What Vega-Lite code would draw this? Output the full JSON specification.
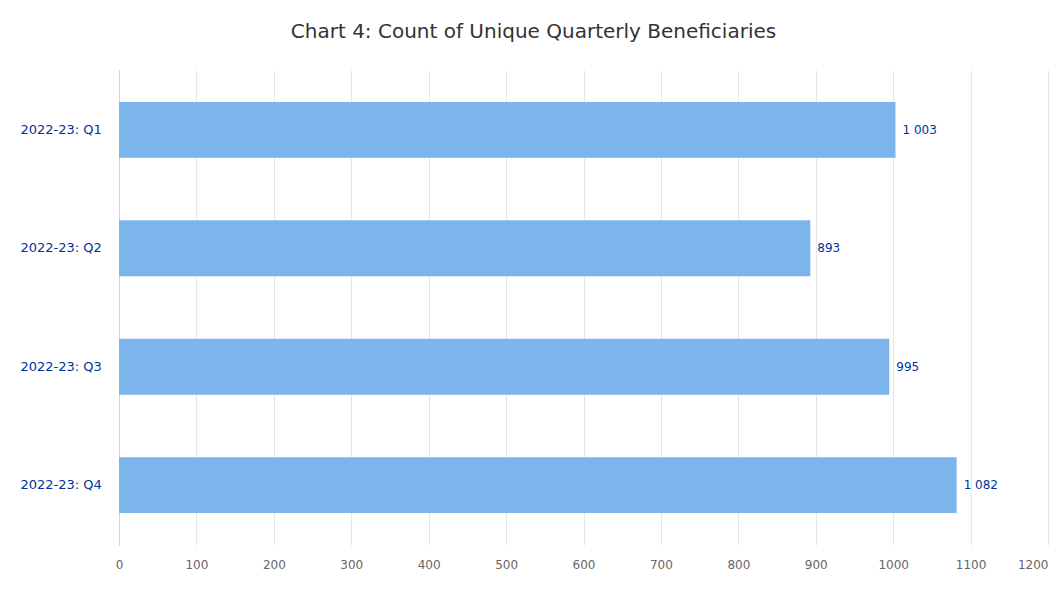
{
  "$schema": "https://vega.github.io/schema/vega-lite/v6.json",
  "width": 929,
  "height": 475,
  "autosize": {"type": "none"},
  "padding": {"left": 119, "top": 70, "right": 14, "bottom": 70},
  "background": "white",
  "config": {
    "view": {"stroke": null},
    "locale": {"number": {"decimal": ".", "thousands": " ", "grouping": [3], "currency": ["", ""]}}
  },
  "title": {
    "text": "Chart 4: Count of Unique Quarterly Beneficiaries",
    "font": "DejaVu Sans",
    "fontSize": 20,
    "fontWeight": "normal",
    "color": "#333333",
    "anchor": "middle",
    "dx": -50,
    "offset": 28
  },
  "data": {
    "values": [
      {"quarter": "2022-23: Q1", "count": 1003},
      {"quarter": "2022-23: Q2", "count": 893},
      {"quarter": "2022-23: Q3", "count": 995},
      {"quarter": "2022-23: Q4", "count": 1082}
    ]
  },
  "encoding": {
    "y": {
      "field": "quarter",
      "type": "nominal",
      "sort": null,
      "scale": {"paddingInner": 0.528, "paddingOuter": 0.27},
      "axis": {
        "title": null,
        "ticks": false,
        "grid": false,
        "domainColor": "#ccd6eb",
        "labelColor": "#003399",
        "labelFont": "DejaVu Sans",
        "labelFontSize": 13,
        "labelAlign": "left",
        "labelPadding": 99
      }
    },
    "x": {
      "field": "count",
      "type": "quantitative",
      "scale": {"domain": [0, 1200], "nice": false},
      "axis": {
        "title": null,
        "values": [0, 100, 200, 300, 400, 500, 600, 700, 800, 900, 1000, 1100, 1200],
        "ticks": false,
        "domain": false,
        "gridColor": "#e6e6e6",
        "labelColor": "#666666",
        "labelFont": "DejaVu Sans",
        "labelFontSize": 12,
        "labelPadding": 14,
        "labelFlush": false,
        "labelAlign": {"expr": "datum.value == 1200 ? 'right' : 'center'"},
        "format": "d"
      }
    }
  },
  "layer": [
    {"mark": {"type": "bar", "color": "#7cb5ec"}},
    {
      "mark": {"type": "text", "align": "left", "baseline": "middle", "dx": 7, "color": "#003399", "font": "DejaVu Sans", "fontSize": 12},
      "encoding": {"text": {"field": "count", "type": "quantitative", "format": ",d"}}
    }
  ]
}
